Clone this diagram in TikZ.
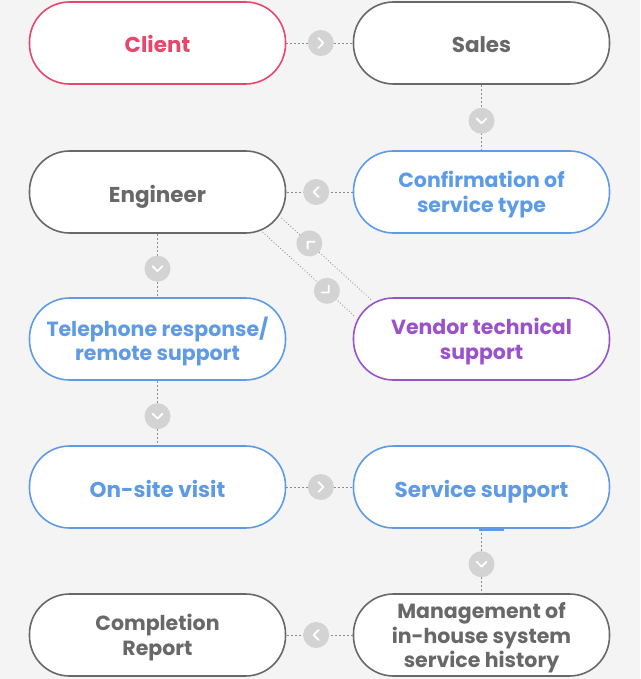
\documentclass[tikz,border=0pt]{standalone}
\usepackage{fontspec}
\setmainfont{Poppins}
\usetikzlibrary{calc}

\definecolor{bggray}{HTML}{F4F4F4}
\definecolor{cred}{HTML}{E8466B}
\definecolor{cgray}{HTML}{686868}
\definecolor{cblue}{HTML}{5E9BE6}
\definecolor{cpurple}{HTML}{9A52CB}
\definecolor{knobgray}{HTML}{D3D3D3}
\definecolor{linegray}{HTML}{8C8C8C}

\tikzset{
	box/.style={rectangle, rounded corners=40, draw=#1, fill=white, line width=1.6,
		minimum width=256, minimum height=82, inner sep=0pt, text=#1, align=center,
		text depth=0pt, font=\bfseries\fontsize{20.5}{24.5}\selectfont},
	single/.style={text height=20, font=\bfseries\fontsize{21.5}{24.5}\selectfont},
	link/.style={draw=linegray, line width=0.8, dash pattern=on 2pt off 2pt},
	slant/.style={draw=linegray, line width=0.7, dash pattern=on 1pt off 2pt},
	knob/.pic={
		\fill[knobgray] (0,0) circle[radius=13pt];
		\draw[white, solid, line width=1.8, line cap=round, line join=round]
			(-2.5pt,5pt) -- (2.5pt,0pt) -- (-2.5pt,-5pt);
	},
}

\begin{document}
\begin{tikzpicture}[x=1pt, y=-1pt]
	
	\fill[bggray] (0,0) rectangle (640,679);
	
	% Boxes
	\node[box=cred, single] (client) at (157.5,43) {Client};
	\node[box=cgray, single] (sales) at ($(client) + (324,0)$) {Sales};
	
	\node[box=cgray, single] (engineer) at ($(client) + (0,149)$) {Engineer};
	\node[box=cblue] (confirm) at ($(engineer) + (324,0)$) {Confirmation of\\ service type};
	
	\node[box=cblue] (phone) at ($(engineer) + (0,147)$) {Telephone response/\\remote support};
	\node[box=cpurple] (vendor) at ($(phone) + (324,0)$) {Vendor technical\\support};
	
	\node[box=cblue, single] (onsite) at ($(phone) + (0,148)$) {On-site visit};
	\node[box=cblue, single] (service) at ($(onsite) + (324,0)$) {Service support};
	
	\node[box=cgray] (report) at ($(onsite) + (0,148)$) {Completion\\Report};
	\node[box=cgray] (history) at ($(report) + (324,0)$) {Management of\\in-house system\\service history};
	
	\draw[cblue, line width=3] ($(service.south) + (-3,1)$) -- ($(service.south) + (22,1)$);
	
	% Connections
	\draw[link] (client) -- (sales) pic[pos=0.52]{knob};
	\draw[link] (sales) -- (confirm) pic[pos=0.55, rotate=-90]{knob};
	\draw[link] (confirm) -- (engineer) pic[pos=0.55, rotate=180]{knob};
	\draw[link] (engineer) -- (phone) pic[pos=0.55, rotate=-90]{knob};
	\draw[link] (phone) -- (onsite) pic[pos=0.55, rotate=-90]{knob};
	\draw[link] (onsite) -- (service) pic[pos=0.52]{knob};
	\draw[link] (service) -- (history) pic[pos=0.55, rotate=-90]{knob};
	\draw[link] (history) -- (report) pic[pos=0.55, rotate=180]{knob};
	
	% Engineer <-> vendor
	\coordinate (upA) at ($(engineer) + (124,26)$);
	\coordinate (upB) at ($(vendor) + (-110,-39)$);
	\coordinate (lowA) at ($(engineer) + (105,40)$);
	\coordinate (lowB) at ($(vendor) + (-127,-23)$);
	
	\draw[slant] (upA) -- (upB) pic[pos=0.31, rotate=135]{knob};
	\draw[slant] (lowA) -- (lowB) pic[pos=0.70, rotate=-45]{knob};
	
\end{tikzpicture}
\end{document}
